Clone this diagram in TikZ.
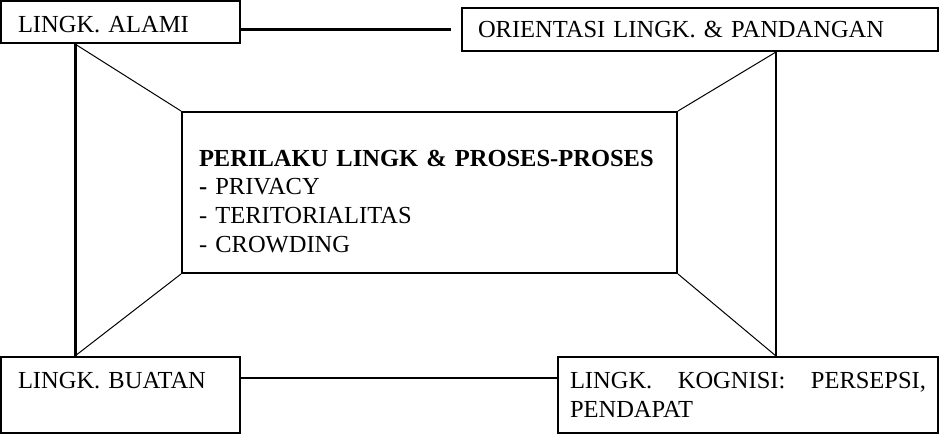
\documentclass[tikz,border=0pt]{standalone}
\usepackage{fontspec}
\setmainfont{Liberation Serif}
\usepackage{tikz}
\usetikzlibrary{calc}

\begin{document}
\begin{tikzpicture}[x=1pt,y=-1pt,
	kotak/.style={draw, line width=2pt, anchor=north west, inner ysep=0pt, font=\fontsize{24.5}{28.7}\selectfont},
	garis/.style={line width=2pt},
	tebal/.style={line width=3pt},
	tipis/.style={line width=1pt}]

	\useasboundingbox (0,0) rectangle (940,434);

	\node[kotak, align=left, inner xsep=17pt, minimum width=239pt, minimum height=42pt, text width=205pt] (alami) at (0,0) {LINGK. ALAMI\rule{0pt}{21pt}};
	\node[kotak, align=left, inner xsep=16pt, minimum width=476pt, minimum height=43pt, text width=444pt] (orient) at (461,7) {ORIENTASI LINGK. \& PANDANGAN};

	\node[kotak, align=left, inner xsep=17pt, minimum width=495pt, minimum height=161pt, text width=461pt] (pusat) at (181,111) {\textbf{PERILAKU LINGK \& PROSES-PROSES}\rule{0pt}{34pt}\\
	\textbf{-} PRIVACY\\
	- TERITORIALITAS\\
	- CROWDING};

	\node[kotak, align=left, inner xsep=17pt, minimum width=239pt, minimum height=76pt, text width=205pt] (buatan) at (0,356) {LINGK. BUATAN\\\mbox{}};
	\node[kotak, align=justify, inner xsep=12pt, minimum width=380pt, minimum height=76pt, text width=356pt] (kognisi) at (557,356) {LINGK. KOGNISI: PERSEPSI, PENDAPAT};

	\draw[tebal] (alami.east |- orient.west) -- ([xshift=-10pt]orient.west);
	\draw[tebal] ([xshift=75pt]alami.south west) -- ([xshift=75pt]buatan.north west);
	\draw[garis] ([xshift=-163pt]orient.south east) -- ([xshift=-163pt]kognisi.north east);
	\draw[garis] ([yshift=17pt]buatan.east) -- ([yshift=17pt]kognisi.west);

	\draw[tipis] ([xshift=75pt]alami.south west) -- (pusat.north west);
	\draw[tipis] ([xshift=-163pt]orient.south east) -- (pusat.north east);
	\draw[tipis] (pusat.south west) -- ([xshift=75pt]buatan.north west);
	\draw[tipis] (pusat.south east) -- ([xshift=-163pt]kognisi.north east);
\end{tikzpicture}
\end{document}
